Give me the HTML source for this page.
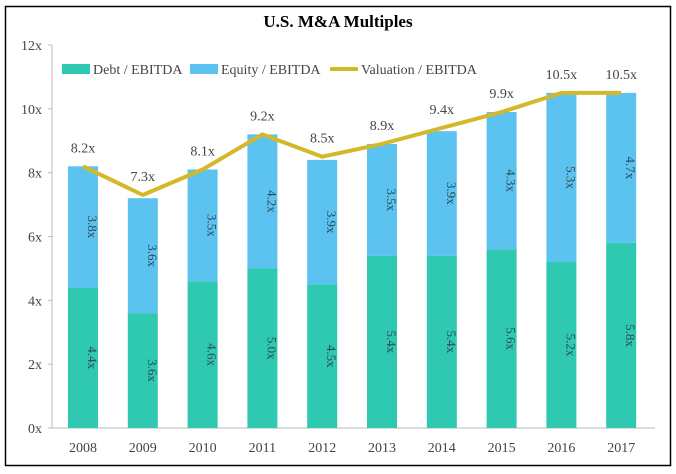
<!DOCTYPE html>
<html><head><meta charset="utf-8"><style>
body{margin:0;background:#fff;}
svg text{font-family:"Liberation Serif",serif;}
</style></head><body>
<svg width="676" height="469" viewBox="0 0 676 469">
<rect x="5.5" y="6.5" width="665" height="459" fill="#fff" stroke="#000" stroke-width="1.5"/>
<text x="338" y="27" text-anchor="middle" font-size="17" font-weight="bold" fill="#000">U.S. M&amp;A Multiples</text>
<g id="axes"></g><g id="bars"></g><g id="line"></g><g id="legend"></g>
</svg>
<script>
const years=["2008","2009","2010","2011","2012","2013","2014","2015","2016","2017"];
const debt=[4.4,3.6,4.6,5.0,4.5,5.4,5.4,5.6,5.2,5.8];
const equity=[3.8,3.6,3.5,4.2,3.9,3.5,3.9,4.3,5.3,4.7];
const valuation=[8.2,7.3,8.1,9.2,8.5,8.9,9.4,9.9,10.5,10.5];
const yTicks=[0,2,4,6,8,10,12];
const NS="http://www.w3.org/2000/svg";
const y0=428,y12=45,x0=83,dx=59.8,bw=30;
const Y=v=>y0-(y0-y12)*v/12;
const X=i=>x0+i*dx;
function mk(tag,attrs,parent,text){const e=document.createElementNS(NS,tag);for(const k in attrs)e.setAttribute(k,attrs[k]);if(text!==undefined)e.textContent=text;parent.appendChild(e);return e;}
const axes=document.getElementById('axes');
let ax=mk('line',{x1:52,y1:Y(12),x2:52,y2:y0,stroke:'#bbb'},axes);


let bx=mk('line',{x1:52,y1:y0,x2:655,y2:y0,stroke:'#bbb'},axes);


yTicks.forEach(t=>{
 const tk=mk('line',{x1:48,y1:Y(t),x2:52,y2:Y(t),stroke:'#bbb'},axes);
 
 
 const l=mk('text',{x:42,y:Y(t)+5,'text-anchor':'end','font-size':14,fill:'#444'},axes,t+'x');
 
 
});
const bars=document.getElementById('bars');
years.forEach((yr,i)=>{
 const cx=X(i);
 const d=mk('rect',{x:cx-bw/2,y:Y(debt[i]),width:bw,height:y0-Y(debt[i]),fill:'#2ec9b0'},bars);
 
 
 const e=mk('rect',{x:cx-bw/2,y:Y(debt[i]+equity[i]),width:bw,height:Y(debt[i])-Y(debt[i]+equity[i]),fill:'#5cc3f0'},bars);
 
 
 const dy=(y0+Y(debt[i]))/2, ey=(Y(debt[i])+Y(debt[i]+equity[i]))/2;
 const dl=mk('text',{x:0,y:0,transform:`translate(${cx+5},${dy}) rotate(90)`,'text-anchor':'middle','font-size':13,fill:'#2b4b55'},bars,debt[i].toFixed(1)+'x');
 
 
 const el=mk('text',{x:0,y:0,transform:`translate(${cx+5},${ey}) rotate(90)`,'text-anchor':'middle','font-size':13,fill:'#2b4b55'},bars,equity[i].toFixed(1)+'x');
 
 
 const xl=mk('text',{x:cx,y:452,'text-anchor':'middle','font-size':14,fill:'#444'},bars,yr);
 
 
});
const lineG=document.getElementById('line');
const pl=mk('polyline',{points:valuation.map((v,i)=>X(i)+','+Y(v)).join(' '),fill:'none',stroke:'#d4b82a','stroke-width':4,'stroke-linejoin':'round'},lineG);


valuation.forEach((v,i)=>{
 const t=mk('text',{x:X(i),y:Y(v)-14,'text-anchor':'middle','font-size':14,fill:'#444'},lineG,v.toFixed(1)+'x');
 
 
});
const lg=document.getElementById('legend');
const items=[["Debt / EBITDA","#2ec9b0","rect",62],["Equity / EBITDA","#5cc3f0","rect",190],["Valuation / EBITDA","#d4b82a","line",330]];
items.forEach(it=>{
 let sw;
 if(it[2]==='rect') sw=mk('rect',{x:it[3],y:64,width:28,height:10,fill:it[1]},lg);
 else sw=mk('line',{x1:it[3],y1:69,x2:it[3]+28,y2:69,stroke:it[1],'stroke-width':4},lg);
 
 
 const t=mk('text',{x:it[3]+31,y:74,'font-size':14,fill:'#444'},lg,it[0]);
 
 
});
</script>
</body></html>
